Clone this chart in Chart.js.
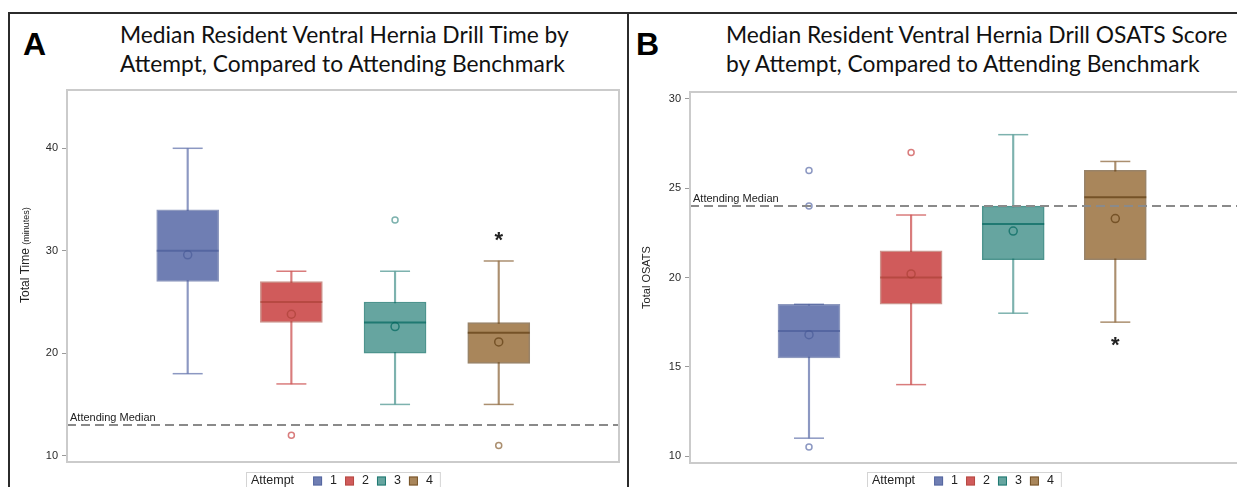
<!DOCTYPE html>
<html>
<head>
<meta charset="utf-8">
<script src="https://cdn.jsdelivr.net/npm/chart.js@4.4.0/dist/chart.umd.min.js"></script>
<style>
  html, body { margin: 0; padding: 0; background: #fff; overflow: hidden; }
  body { width: 1237px; height: 487px; position: relative; }
  .frame { position: absolute; border-left: 2px solid #2b2b2b; border-top: 2px solid #2b2b2b; }
  #frameA { left: 8px; top: 12px; width: 620px; height: 480px; }
  #frameB { left: 627px; top: 12px; width: 620px; height: 480px; }
  .letter { position: absolute; font-family: "Liberation Sans", Arial, sans-serif; font-weight: bold;
            font-size: 32px; line-height: 32px; color: #000; }
  .title { position: absolute; font-family: Lato, "Open Sans", sans-serif; font-size: 22.8px;
           line-height: 29px; color: #111; white-space: nowrap; }
  canvas { position: absolute; top: 0; }
</style>
</head>
<body>
<div class="frame" id="frameA"></div>
<div class="frame" id="frameB"></div>
<div class="letter" style="left:23px; top:28px;">A</div>
<div class="letter" style="left:636px; top:28px;">B</div>
<div class="title" style="left:120px; top:20px;">Median Resident Ventral Hernia Drill Time by<br>Attempt, Compared to Attending Benchmark</div>
<div class="title" style="left:726px; top:20px;">Median Resident Ventral Hernia Drill OSATS Score<br>by Attempt, Compared to Attending Benchmark</div>
<canvas id="chartA" width="628" height="487" style="left:0px;"></canvas>
<canvas id="chartB" width="622" height="487" style="left:628px;"></canvas>
<script>
// Attempts (x categories)
const attempts = [1, 2, 3, 4];
const attemptLabels = ['1', '2', '3', '4'];

// Panel A - total time (minutes)
const timeMin = [18, 17, 15, 15];
const timeQ1 = [27, 23, 20, 19];
const timeMedian = [30, 25, 23, 22];
const timeQ3 = [34, 27, 25, 23];
const timeMax = [40, 28, 28, 29];
const timeMean = [29.6, 23.8, 22.6, 21.1];
const timeOutlierX = [2, 3, 4];
const timeOutlierY = [12, 33, 11];
const timeAttending = 13;
const timeStarX = [4];
const timeStarY = [31.4];
const timeTicks = [10, 20, 30, 40];

// Panel B - total OSATS score
const osatsMin = [11, 14, 18, 17.5];
const osatsQ1 = [15.5, 18.5, 21, 21];
const osatsMedian = [17, 20, 23, 24.5];
const osatsQ3 = [18.5, 21.5, 24, 26];
const osatsMax = [18.5, 23.5, 28, 26.5];
const osatsMean = [16.8, 20.2, 22.6, 23.3];
const osatsOutlierX = [1, 1, 1, 2];
const osatsOutlierY = [26, 24, 10.5, 27];
const osatsAttending = 24;
const osatsStarX = [4];
const osatsStarY = [16.4];
const osatsTicks = [10, 15, 20, 25, 30];

// SAS-like group colours
const fillColors = ['#6F7EB3', '#D05B5B', '#66A5A0', '#A9865B'];
const whiskerColors = ['rgba(111,126,179,0.8)', 'rgba(208,91,91,0.8)', 'rgba(102,165,160,0.85)', 'rgba(150,115,75,0.8)'];
const lineColors = ['rgba(68,86,148,0.6)', 'rgba(162,58,46,0.55)', 'rgba(1,102,94,0.7)', 'rgba(84,48,5,0.6)'];

const FONT = '"Liberation Sans", Arial, sans-serif';

// Frame, reference label, stars and legend
const panelDecor = {
    id: 'panelDecor',
    afterDraw(chart, args, opts) {
        const {ctx, chartArea: a, scales: {x, y}} = chart;
        ctx.save();

        // plot frame
        ctx.strokeStyle = '#cbcbcb';
        ctx.lineWidth = 2;
        ctx.strokeRect(a.left, a.top, a.right - a.left, a.bottom - a.top);

        // attending label above dashed line
        ctx.fillStyle = '#222';
        ctx.font = '11px ' + FONT;
        ctx.textAlign = 'left';
        ctx.textBaseline = 'alphabetic';
        ctx.fillText('Attending Median', a.left + 3, y.getPixelForValue(opts.refValue) - 4);

        // significance stars
        ctx.font = 'bold 22px ' + FONT;
        ctx.textAlign = 'center';
        const m = ctx.measureText('*');
        opts.starX.forEach((sx, i) => {
            const px = x.getPixelForValue(sx);
            const py = y.getPixelForValue(opts.starY[i]);
            ctx.fillText('*', px, py + (m.actualBoundingBoxAscent - m.actualBoundingBoxDescent) / 2);
        });

        // custom y title with smaller unit text
        if (opts.yTitle) {
            ctx.save();
            ctx.translate(opts.yTitle.x, opts.yTitle.y);
            ctx.rotate(-Math.PI / 2);
            ctx.textAlign = 'left';
            ctx.fillStyle = '#222';
            ctx.font = '12px ' + FONT;
            ctx.fillText(opts.yTitle.main, 0, 0);
            const w = ctx.measureText(opts.yTitle.main + ' ').width;
            ctx.font = '9px ' + FONT;
            ctx.fillText(opts.yTitle.unit, w, 0);
            ctx.restore();
        }

        // legend: "Attempt" then coloured swatches
        ctx.font = '12.5px ' + FONT;
        ctx.textAlign = 'left';
        ctx.textBaseline = 'middle';
        const sw = 9, pad = 5;
        let w = pad + ctx.measureText('Attempt').width + 19;
        attemptLabels.forEach((l, i) => {
            w += sw + 8 + ctx.measureText(l).width + (i < attemptLabels.length - 1 ? 8 : 0);
        });
        w += pad + 2;
        const cx = (a.left + Math.min(a.right, opts.visibleRight)) / 2;
        let lx = Math.round(cx - w / 2);
        const top = opts.legendTop;
        ctx.strokeStyle = '#d4d4d4';
        ctx.lineWidth = 1;
        ctx.strokeRect(lx + 0.5, top + 0.5, w, 30);
        const cy = top + 9;
        ctx.fillStyle = '#222';
        lx += pad;
        ctx.fillText('Attempt', lx, cy);
        lx += ctx.measureText('Attempt').width + 19;
        attemptLabels.forEach((l, i) => {
            ctx.fillStyle = fillColors[i];
            ctx.fillRect(lx, cy - 4.5, sw, sw);
            ctx.strokeStyle = lineColors[i];
            ctx.strokeRect(lx + 0.5, cy - 4, sw - 1, sw - 1);
            lx += sw + 8;
            ctx.fillStyle = '#222';
            ctx.fillText(l, lx, cy);
            lx += ctx.measureText(l).width + 8;
        });

        ctx.restore();
    }
};

function boxDatasets(mins, q1s, meds, q3s, maxs, means, outX, outY, refValue, xMin, xMax) {
    return [
        {
            type: 'bar',
            data: attempts.map((a, i) => ({x: a, y: [mins[i], maxs[i]]})),
            backgroundColor: whiskerColors,
            barThickness: 1.5,
            grouped: false,
            order: 6
        },
        {
            type: 'scatter',
            data: attempts.flatMap((a, i) => [{x: a, y: mins[i]}, {x: a, y: maxs[i]}]),
            pointStyle: 'line',
            pointRadius: 15,
            borderColor: attempts.flatMap((a, i) => [whiskerColors[i], whiskerColors[i]]),
            borderWidth: 1.5,
            order: 5
        },
        {
            type: 'bar',
            data: attempts.map((a, i) => ({x: a, y: [q1s[i], q3s[i]]})),
            backgroundColor: fillColors,
            borderColor: lineColors,
            borderWidth: 1.5,
            borderSkipped: false,
            barThickness: 62,
            grouped: false,
            order: 4
        },
        {
            type: 'scatter',
            data: attempts.map((a, i) => ({x: a, y: meds[i]})),
            pointStyle: 'line',
            pointRadius: 31,
            borderColor: lineColors,
            borderWidth: 2,
            order: 3
        },
        {
            type: 'scatter',
            data: attempts.map((a, i) => ({x: a, y: means[i]})),
            pointStyle: 'circle',
            pointRadius: 4,
            backgroundColor: 'rgba(0,0,0,0)',
            borderColor: lineColors,
            borderWidth: 1.5,
            order: 2
        },
        {
            type: 'scatter',
            data: outX.map((a, i) => ({x: a, y: outY[i]})),
            pointStyle: 'circle',
            pointRadius: 3,
            backgroundColor: 'rgba(0,0,0,0)',
            borderColor: outX.map(a => whiskerColors[attempts.indexOf(a)]),
            borderWidth: 1.5,
            order: 1
        },
        {
            type: 'line',
            data: [{x: xMin, y: refValue}, {x: xMax, y: refValue}],
            borderColor: '#8a8a8a',
            borderWidth: 2,
            borderDash: [9, 5],
            pointRadius: 0,
            order: 0
        }
    ];
}

function makePanel(id, cfg) {
    return new Chart(document.getElementById(id), {
        type: 'bar',
        data: {
            datasets: boxDatasets(cfg.mins, cfg.q1s, cfg.meds, cfg.q3s, cfg.maxs, cfg.means,
                cfg.outX, cfg.outY, cfg.refValue, cfg.xMin, cfg.xMax)
        },
        options: {
            responsive: false,
            animation: false,
            layout: {padding: cfg.padding, autoPadding: false},
            plugins: {
                legend: {display: false},
                tooltip: {enabled: false},
                panelDecor: {
                    refValue: cfg.refValue,
                    starX: cfg.starX,
                    starY: cfg.starY,
                    yTitle: cfg.yTitle,
                    legendTop: cfg.legendTop,
                    visibleRight: cfg.visibleRight
                }
            },
            scales: {
                x: {
                    type: 'linear',
                    min: cfg.xMin,
                    max: cfg.xMax,
                    offset: false,
                    display: false
                },
                y: {
                    min: cfg.yMin,
                    max: cfg.yMax,
                    afterFit: scale => { scale.width = cfg.axisWidth; },
                    afterBuildTicks: scale => { scale.ticks = cfg.ticks.map(v => ({value: v})); },
                    grid: {drawOnChartArea: false, tickLength: 5, tickColor: '#9a9a9a'},
                    border: {display: false},
                    ticks: {color: '#2a2a2a', padding: 4, font: {family: FONT, size: 11}},
                    title: cfg.scaleTitle
                }
            }
        },
        plugins: [panelDecor]
    });
}

makePanel('chartA', {
    mins: timeMin, q1s: timeQ1, meds: timeMedian, q3s: timeQ3, maxs: timeMax, means: timeMean,
    outX: timeOutlierX, outY: timeOutlierY, refValue: timeAttending,
    starX: timeStarX, starY: timeStarY, ticks: timeTicks,
    xMin: -0.164, xMax: 5.16, yMin: 9.38, yMax: 45.69,
    padding: {left: 0, top: 90, right: 9, bottom: 25},
    axisWidth: 67,
    yTitle: {x: 29, y: 303, main: 'Total Time', unit: '(minutes)'},
    scaleTitle: {display: false},
    legendTop: 472,
    visibleRight: 628
});

makePanel('chartB', {
    mins: osatsMin, q1s: osatsQ1, meds: osatsMedian, q3s: osatsQ3, maxs: osatsMax, means: osatsMean,
    outX: osatsOutlierX, outY: osatsOutlierY, refValue: osatsAttending,
    starX: osatsStarX, starY: osatsStarY, ticks: osatsTicks,
    xMin: -0.1655, xMax: 5.2017, yMin: 9.61, yMax: 30.39,
    padding: {left: 0, top: 92, right: 12, bottom: 24},
    axisWidth: 62,
    yTitle: null,
    scaleTitle: {display: true, text: 'Total OSATS', color: '#222', padding: {top: 12}, font: {family: FONT, size: 11}},
    legendTop: 472,
    visibleRight: 610
});
</script>
</body>
</html>
